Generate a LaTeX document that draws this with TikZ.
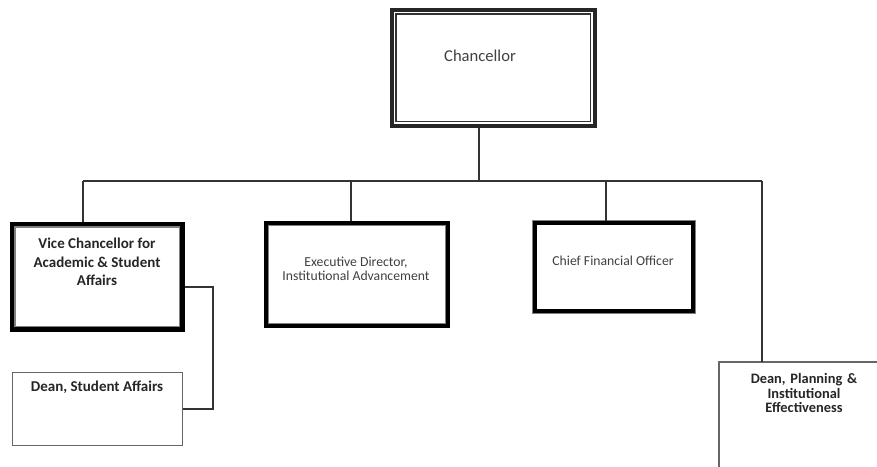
\documentclass[tikz,border=0pt]{standalone}
\usepackage{fontspec}
\setmainfont{Carlito}
\begin{document}
\begin{tikzpicture}[x=1pt,y=-1pt,
  conn/.style={draw=black!80,line width=1.3pt},
  txt/.style={text=black!75,align=center,font=\fontsize{13.7}{14.5}\selectfont},
  btxt/.style={text=black!85,align=center,font=\bfseries\fontsize{15}{18.5}\selectfont}]
\useasboundingbox[fill=white] (0,0) rectangle (877,466);
% Chancellor
\node[draw=black!85,line width=3.5pt,minimum width=203pt,minimum height=116pt,anchor=north west] (ch) at (390,8) {};
\draw[black!80,line width=1.3pt] ([xshift=6pt,yshift=-6pt]ch.north west) rectangle ([xshift=-6pt,yshift=6pt]ch.south east);
\node[txt,font=\fontsize{16.6}{18}\selectfont] (cht) at (480,56) {Chancellor};
% VC
\node[draw=black,line width=4.5pt,minimum width=170pt,minimum height=105pt,anchor=north west] (vc) at (10,222) {};
\draw[black!50,line width=1.3pt] ([xshift=5.1pt,yshift=-5.1pt]vc.north west) rectangle ([xshift=-5.1pt,yshift=5.1pt]vc.south east);
\node[btxt] (vct) at (97,262) {Vice Chancellor for\\Academic \& Student\\Affairs};
% ED
\node[draw=black,line width=4pt,minimum width=182pt,minimum height=103pt,anchor=north west] (ed) at (264,221) {};
\draw[black!50,line width=1.2pt] ([xshift=4.6pt,yshift=-4.6pt]ed.north west) rectangle ([xshift=-4.6pt,yshift=4.6pt]ed.south east);
\node[txt] (edt) at (356,269) {Executive Director,\\Institutional Advancement};
% CFO
\node[draw=black,line width=4pt,minimum width=158pt,minimum height=88pt,anchor=north west] (cfo) at (533,221) {};
\draw[black!50,line width=1pt] ([xshift=-0.4pt,yshift=0.4pt]cfo.north west) rectangle ([xshift=0.4pt,yshift=-0.4pt]cfo.south east);
\node[txt] (cfot) at (613,261) {Chief Financial Officer};
% Dean SA
\node[draw=black!60,line width=1.2pt,minimum width=170pt,minimum height=73pt,anchor=north west] (dsa) at (12,372) {};
\node[btxt] (dsat) at (97,387) {Dean, Student Affairs};
% Dean Planning (cut off by the page edge)
\coordinate (dp) at (762,362);
\draw[black!60,line width=1.2pt] (878,362) -- (719,362) -- (719,467);
\node[btxt,text width=160pt,font=\bfseries\fontsize{14.4}{14.6}\selectfont] (dpt) at (804,393) {Dean, Planning \&\\Institutional\\Effectiveness};
% connectors
\coordinate (bus) at (479,181);
\draw[conn] (ch.south -| bus) -- (bus);
\draw[conn] (83,181) -- (762,181);
\draw[conn] (83,181) -- (vc.north -| 83,0);
\draw[conn] (351,181) -- (ed.north -| 351,0);
\draw[conn] (606,181) -- (cfo.north -| 606,0);
\draw[conn] (762,181) -- (dp);
\draw[conn] (vc.east |- 0,287) -- (213,287) -- (213,409) -- (dsa.east |- 0,409);
\end{tikzpicture}
\end{document}
